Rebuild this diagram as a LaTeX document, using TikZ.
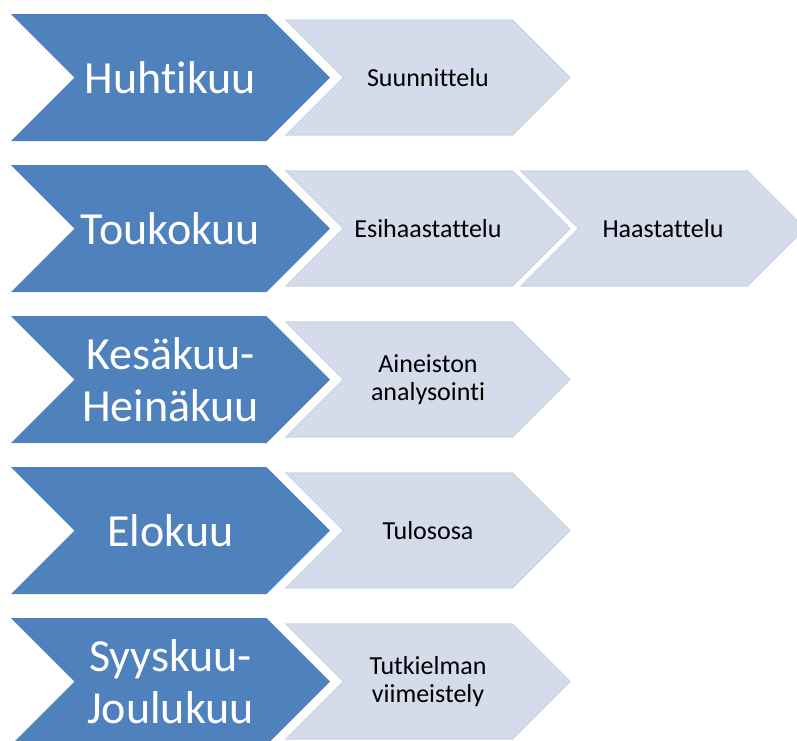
\documentclass[tikz,border=0pt]{standalone}
\usepackage{fontspec}
\setmainfont{Carlito}[Ligatures={NoCommon}]
\usepackage{xcolor}
\usetikzlibrary{shapes.symbols}
\definecolor{MonthBlue}{HTML}{4F81BD}
\definecolor{TaskFill}{HTML}{D4DBEA}
\definecolor{TaskEdge}{HTML}{CDD5E6}

\begin{document}
\begin{tikzpicture}[
 x=1pt,y=-1pt,
 month/.style={shape=signal,signal from=west,signal to=east,signal pointer angle=90,fill=MonthBlue,draw=none,inner sep=0pt,minimum width=319pt,minimum height=127pt,align=center,text=white,font=\fontsize{46}{52}\selectfont},
 task/.style={shape=signal,signal from=west,signal to=east,signal pointer angle=90,fill=TaskFill,draw=TaskEdge,line width=1.2pt,inner sep=0pt,minimum width=284pt,minimum height=115pt,align=center,text=black,font=\fontsize{26}{28}\selectfont}
]
\useasboundingbox (0,0) rectangle (797,740);
\node[month] (m1) at (170.5,77.5) {Huhtikuu};
\node[task] (t1) at (428,77.5) {Suunnittelu};
\node[month] (m2) at (170.5,228.5) {Toukokuu};
\node[task] (t2) at (428,228.5) {Esihaastattelu};
\node[task] (t3) at (663,228.5) {Haastattelu};
\node[month] (m3) at (170.5,379.5) {Kesäkuu-\\Heinäkuu};
\node[task] (t4) at (428,379.5) {Aineiston\\analysointi};
\node[month] (m4) at (170.5,530.5) {Elokuu};
\node[task] (t5) at (428,530.5) {Tulososa};
\node[month] (m5) at (170.5,681.5) {Syyskuu-\\Joulukuu};
\node[task] (t6) at (428,681.5) {Tutkielman\\viimeistely};
\end{tikzpicture}
\end{document}
